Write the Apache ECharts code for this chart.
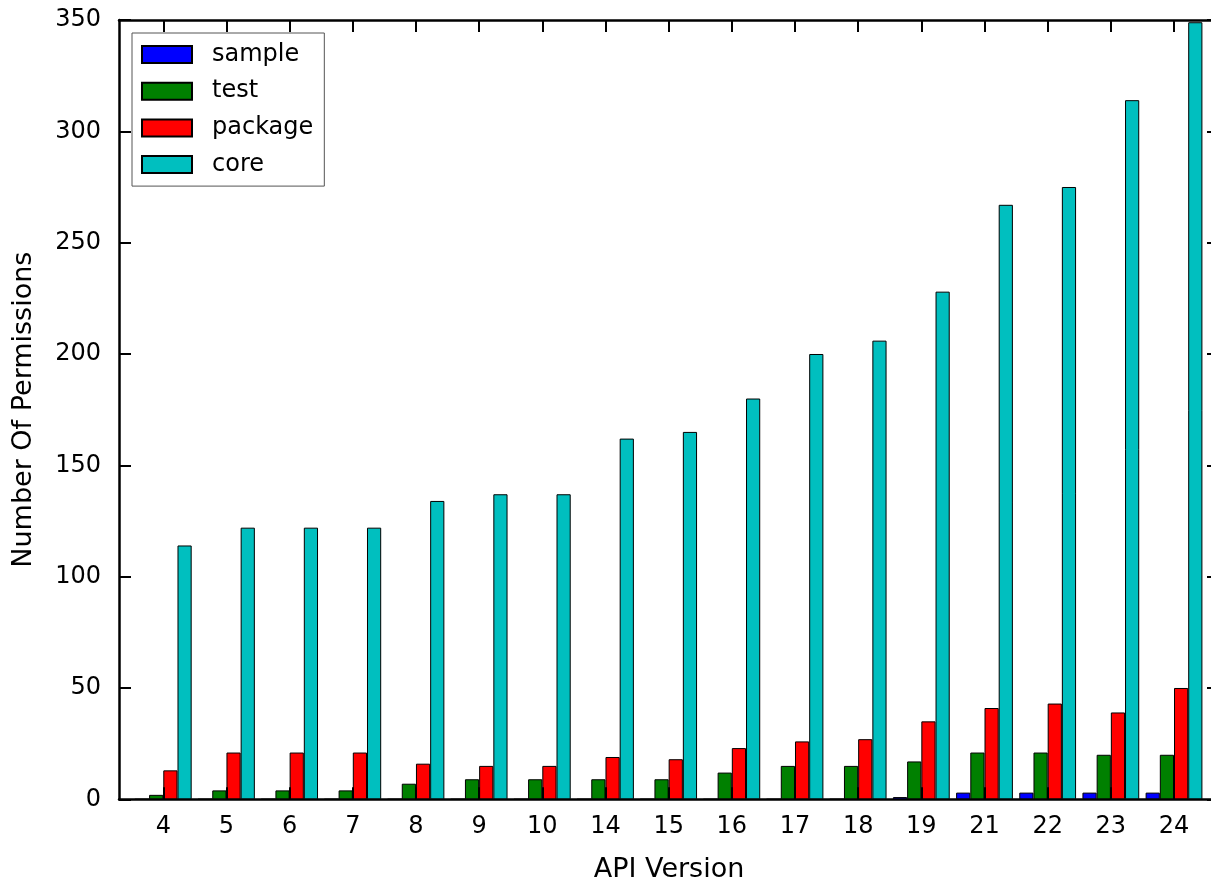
<!DOCTYPE html>
<html>
<head>
<meta charset="utf-8">
<script src="https://cdn.jsdelivr.net/npm/echarts@6/dist/echarts.min.js"></script>
<style>
html,body{margin:0;padding:0;background:#fff;}
#chart{width:1211px;height:880px;}
</style>
</head>
<body>
<div id="chart"></div>
<script>
const categories = ['4','5','6','7','8','9','10','14','15','16','17','18','19','21','22','23','24'];
const sampleValues  = [0,0,0,0,0,0,0,0,0,0,0,0,1,3,3,3,3];
const testValues    = [2,4,4,4,7,9,9,9,9,12,15,15,17,21,21,20,20];
const packageValues = [13,21,21,21,16,15,15,19,18,23,26,27,35,41,43,39,50];
const coreValues    = [114,122,122,122,134,137,137,162,165,180,200,206,228,267,275,314,349];
const seriesNames = ['sample','test','package','core'];
const seriesColors = ['#0000ff','#008000','#ff0000','#00bfbf'];

const FONT = 'DejaVu Sans';
const chart = echarts.init(document.getElementById('chart'), null, {renderer:'canvas'});

const frame = {left:119, top:20, width:1100, height:779.3};
const bars  = {left:131.7, top:20, width:1073.9, height:779.3};

const seriesData = [sampleValues, testValues, packageValues, coreValues];

const option = {
  animation:false,
  backgroundColor:'#fff',
  textStyle:{fontFamily:FONT},
  grid:[
    {left:frame.left, top:frame.top, width:frame.width, height:frame.height, containLabel:false, outerBoundsMode:'none'},
    {left:bars.left, top:bars.top, width:bars.width, height:bars.height, containLabel:false, outerBoundsMode:'none'}
  ],
  legend:{
    orient:'vertical',
    left:132, top:33,
    padding:[9.5,11,9.5,9],
    itemGap:12.7,
    itemWidth:50, itemHeight:17,
    icon:'rect',
    borderColor:'#555', borderWidth:1,
    backgroundColor:'#fff',
    textStyle:{fontFamily:FONT, fontSize:24, color:'#000', lineHeight:24, padding:[0,0,0,15]},
    data:seriesNames
  },
  xAxis:[
    {gridIndex:0, type:'value', min:0, max:1, position:'bottom',
     axisLine:{show:true, onZero:false, lineStyle:{color:'#000', width:2.5}},
     axisTick:{show:false}, axisLabel:{show:false}, splitLine:{show:false},
     name:'API Version', nameLocation:'middle', nameGap:57,
     nameTextStyle:{fontFamily:FONT, fontSize:27, color:'#000'}},
    {gridIndex:0, type:'value', min:0, max:1, position:'top',
     axisLine:{show:true, onZero:false, lineStyle:{color:'#000', width:2.5}},
     axisTick:{show:false}, axisLabel:{show:false}, splitLine:{show:false}},
    {gridIndex:1, type:'category', data:categories, position:'bottom', z:10,
     axisLine:{show:false, onZero:false},
     axisTick:{show:true, inside:true, length:12, alignWithLabel:true, lineStyle:{color:'#000', width:2}},
     axisLabel:{show:true, fontFamily:FONT, fontSize:24, color:'#000', margin:15},
     splitLine:{show:false}},
    {gridIndex:1, type:'category', data:categories, position:'top', z:10,
     axisLine:{show:false, onZero:false},
     axisTick:{show:true, inside:true, length:12, alignWithLabel:true, lineStyle:{color:'#000', width:2}},
     axisLabel:{show:false}, splitLine:{show:false}}
  ],
  yAxis:[
    {gridIndex:0, type:'value', min:0, max:350, interval:50, position:'left', z:10,
     axisLine:{show:true, onZero:false, lineStyle:{color:'#000', width:2.5}},
     axisTick:{show:true, inside:true, length:12, lineStyle:{color:'#000', width:2}},
     axisLabel:{show:true, fontFamily:FONT, fontSize:24, color:'#000', margin:18},
     splitLine:{show:false},
     name:'Number Of Permissions', nameLocation:'middle', nameGap:82, nameRotate:90,
     nameTextStyle:{fontFamily:FONT, fontSize:27, color:'#000'}},
    {gridIndex:0, type:'value', min:0, max:350, interval:50, position:'right', z:10,
     axisLine:{show:true, onZero:false, lineStyle:{color:'#000', width:2.5}},
     axisTick:{show:true, inside:true, length:12, lineStyle:{color:'#000', width:2}},
     axisLabel:{show:false}, splitLine:{show:false}},
    {gridIndex:1, type:'value', min:0, max:350, show:false, splitLine:{show:false}}
  ],
  series: seriesNames.map((name,i)=>({
    name:name, type:'bar', xAxisIndex:2, yAxisIndex:2,
    data:seriesData[i],
    barWidth:14.2, barGap:'0%',
    itemStyle:{color:seriesColors[i], borderColor:'#000', borderWidth:1}
  }))
};
chart.setOption(option);
</script>
</body>
</html>
